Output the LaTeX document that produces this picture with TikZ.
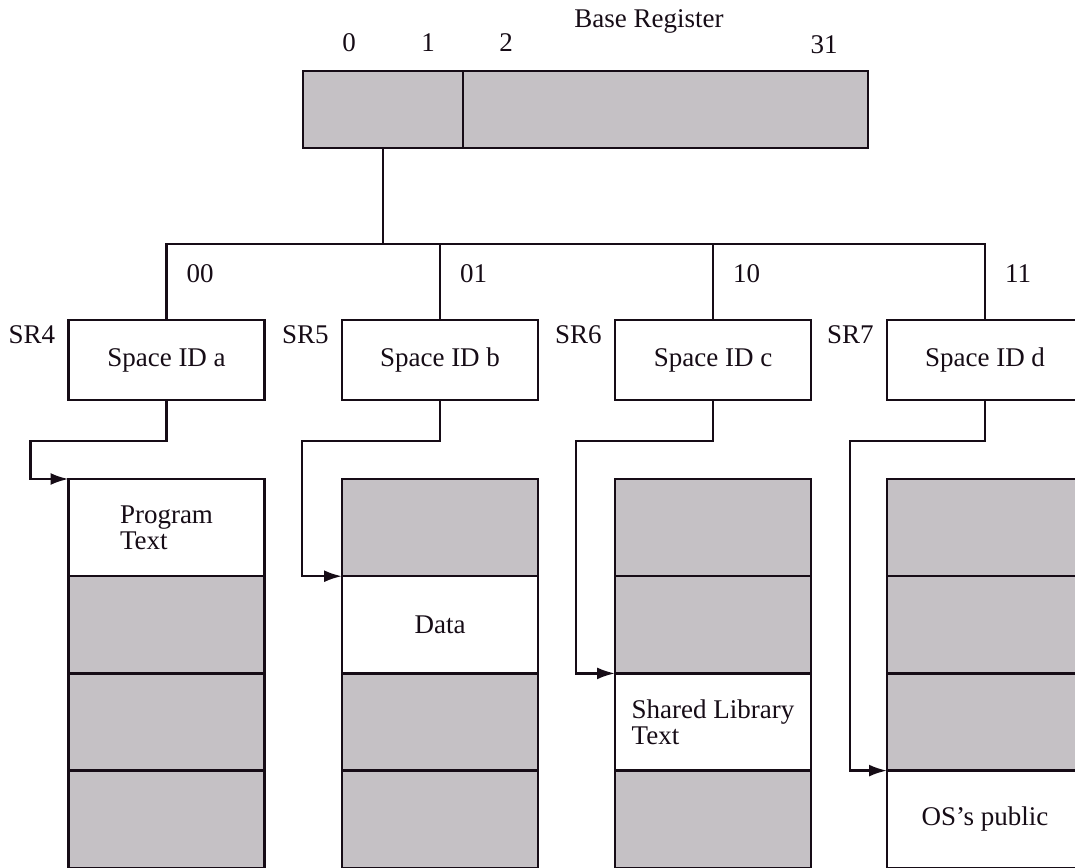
\documentclass[tikz,border=0pt]{standalone}
\usepackage{fontspec}
\setmainfont{Liberation Serif}
\usetikzlibrary{positioning,arrows.meta}
\definecolor{regfill}{RGB}{197,193,197}
\definecolor{ink}{RGB}{22,12,22}

\begin{document}
\begin{tikzpicture}[x=0.5pt,y=-0.5pt,line width=1.2pt,color=ink,
    font=\fontsize{13.5}{13.2}\selectfont,
    field/.style={draw,fill=regfill,minimum height=38.5pt,inner sep=0pt,outer sep=0pt},
    idbox/.style={draw,fill=white,minimum width=98pt,minimum height=40pt,inner sep=0pt},
    seg/.style={draw,fill=regfill,minimum width=98pt,minimum height=48.6pt,inner sep=0pt,outer sep=0pt,align=left},
    used/.style={seg,fill=white},
    lbl/.style={inner sep=0pt},
    ptr/.style={-{Latex[length=9pt,width=6pt]}}]
  \useasboundingbox (0,0) rectangle (1075,867);
  \clip (0,0) rectangle (1075,867);

  % base register
  \node[field,minimum width=80pt] (regL) at (383,109.5) {};
  \node[field,minimum width=202.5pt,right=0pt of regL] (regR) {};
  \node (title) at (649,21) {Base Register};
  \node (bit0) at (349,43) {0};
  \node (bit1) at (428,43) {1};
  \node (bit2) at (506,43) {2};
  \node (bit31) at (824,45) {31};

  % space registers
  \foreach \n/\x/\s/\b in {a/166.5/4/00,b/440/5/01,c/713/6/10,d/985/7/11} {
    \node[idbox] (id\n) at (\x,360) {Space ID \n};
    \node[lbl,anchor=east] (sr\s) at ([xshift=-5.5pt,yshift=-8pt]id\n.north west) {SR\s};
    \node[lbl,anchor=west] (sel\n) at ([xshift=9.5pt,yshift=22.5pt]id\n.north) {\b};
  }

  \coordinate (bus) at (381,244);
  \draw (regL.south) -- (regL.south |- bus);
  \draw (ida.north) |- (bus) -| (idd.north);
  \draw (idb.north) -- (idb.north |- bus);
  \draw (idc.north) -- (idc.north |- bus);

  % spaces
  \node[used] (a1) at (166.5,527.6) {Program\\Text};
  \node[seg,below=0pt of a1] (a2) {};
  \node[seg,below=0pt of a2] (a3) {};
  \node[seg,below=0pt of a3] (a4) {};

  \node[seg] (b1) at (440,527.6) {};
  \node[used,below=0pt of b1] (b2) {Data};
  \node[seg,below=0pt of b2] (b3) {};
  \node[seg,below=0pt of b3] (b4) {};

  \node[seg] (c1) at (713,527.6) {};
  \node[seg,below=0pt of c1] (c2) {};
  \node[used,below=0pt of c2] (c3) {Shared Library\\Text};
  \node[seg,below=0pt of c3] (c4) {};

  \node[seg] (d1) at (985,527.6) {};
  \node[seg,below=0pt of d1] (d2) {};
  \node[seg,below=0pt of d2] (d3) {};
  \node[used,below=0pt of d3] (d4) {OS's public};

  \draw[ptr] (ida.south) -- ++(0,40) -| ([xshift=-19pt]a1.north west) -- (a1.north west);
  \draw[ptr] (idb.south) -- ++(0,40) -| ([xshift=-20pt]b2.north west) -- (b2.north west);
  \draw[ptr] (idc.south) -- ++(0,40) -| ([xshift=-19.5pt]c3.north west) -- (c3.north west);
  \draw[ptr] (idd.south) -- ++(0,40) -| ([xshift=-18.5pt]d4.north west) -- (d4.north west);
\end{tikzpicture}
\end{document}
